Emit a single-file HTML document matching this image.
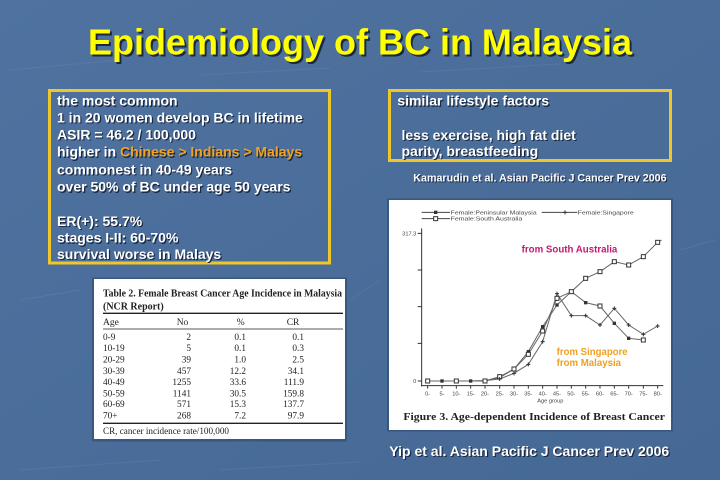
<!DOCTYPE html>
<html><head><meta charset="utf-8"><style>
html,body{margin:0;padding:0;background:#4a6d9a;}
svg{display:block}
.s{font-family:"Liberation Sans",Arial,sans-serif;font-weight:bold}
.sh{fill:#1b2940}
.w{fill:#ffffff}
.tb{font-family:"Liberation Serif","Times New Roman",serif;fill:#222}
</style></head><body>
<svg width="720" height="480" viewBox="0 0 720 480" xmlns="http://www.w3.org/2000/svg">
<defs>
<linearGradient id="bg" x1="0" y1="0" x2="1" y2="1">
<stop offset="0" stop-color="#4f72a0"/><stop offset="0.5" stop-color="#4a6d9a"/><stop offset="1" stop-color="#456894"/>
</linearGradient>
</defs>
<rect x="0" y="0" width="720" height="480" fill="url(#bg)"/>
<g opacity="0.06" stroke="#ffffff" stroke-width="1">
<line x1="10" y1="70" x2="120" y2="60"/><line x1="200" y1="75" x2="330" y2="68"/><line x1="420" y1="72" x2="560" y2="64"/>
<line x1="20" y1="300" x2="80" y2="290"/><line x1="350" y1="300" x2="380" y2="280"/><line x1="680" y1="250" x2="715" y2="240"/>
<line x1="20" y1="470" x2="160" y2="460"/><line x1="220" y1="470" x2="360" y2="462"/>
</g>

<!-- Title -->
<g class="s" font-size="36" text-anchor="middle">
<text x="362" y="56.5" class="sh">Epidemiology of BC in Malaysia</text>
<text x="360" y="54.5" fill="#ffff00">Epidemiology of BC in Malaysia</text>
</g>

<!-- Left box -->
<rect x="49.5" y="90.5" width="280" height="172.5" fill="none" stroke="#efc72a" stroke-width="3"/>
<g class="s" font-size="14">
<g transform="translate(1.2,1.2)" class="sh">
<text x="57" y="105.7">the most common</text>
<text x="57" y="122.3">1 in 20 women develop BC in lifetime</text>
<text x="57" y="139.3">ASIR = 46.2 / 100,000</text>
<text x="57" y="156.7">higher in Chinese &gt; Indians &gt; Malays</text>
<text x="57" y="174.3">commonest in 40-49 years</text>
<text x="57" y="191.7">over 50% of BC under age 50 years</text>
<text x="57" y="226">ER(+): 55.7%</text>
<text x="57" y="242.7">stages I-II: 60-70%</text>
<text x="57" y="259">survival worse in Malays</text>
</g>
<g class="w">
<text x="57" y="105.7">the most common</text>
<text x="57" y="122.3">1 in 20 women develop BC in lifetime</text>
<text x="57" y="139.3">ASIR = 46.2 / 100,000</text>
<text x="57" y="156.7">higher in <tspan fill="#f3a21f">Chinese &gt; Indians &gt; Malays</tspan></text>
<text x="57" y="174.3">commonest in 40-49 years</text>
<text x="57" y="191.7">over 50% of BC under age 50 years</text>
<text x="57" y="226">ER(+): 55.7%</text>
<text x="57" y="242.7">stages I-II: 60-70%</text>
<text x="57" y="259">survival worse in Malays</text>
</g>
</g>

<!-- Right box -->
<rect x="389.5" y="90.5" width="281" height="70" fill="none" stroke="#efc72a" stroke-width="3"/>
<g class="s" font-size="14">
<g transform="translate(1.2,1.2)" class="sh">
<text x="397.3" y="105.7">similar lifestyle factors</text>
<text x="401.5" y="140">less exercise, high fat diet</text>
<text x="401.5" y="156">parity, breastfeeding</text>
</g>
<g class="w">
<text x="397.3" y="105.7">similar lifestyle factors</text>
<text x="401.5" y="140">less exercise, high fat diet</text>
<text x="401.5" y="156">parity, breastfeeding</text>
</g>
</g>
<g class="s" font-size="10.7">
<text x="414.3" y="182.7" class="sh">Kamarudin et al. Asian Pacific J Cancer Prev 2006</text>
<text x="413.3" y="181.7" class="w">Kamarudin et al. Asian Pacific J Cancer Prev 2006</text>
</g>
<g class="s" font-size="14">
<text x="390.5" y="457.2" class="sh">Yip et al. Asian Pacific J Cancer Prev 2006</text>
<text x="389.3" y="456" class="w">Yip et al. Asian Pacific J Cancer Prev 2006</text>
</g>

<!-- Table image -->
<rect x="92" y="277.5" width="255" height="164" fill="#2f4a70" opacity="0.6"/>
<rect x="94" y="279" width="251" height="160" fill="#ffffff"/>
<g class="tb">
<text x="103" y="296.5" font-size="10" font-weight="bold" textLength="239" lengthAdjust="spacingAndGlyphs">Table 2. Female Breast Cancer Age Incidence in Malaysia</text>
<text x="103" y="309.5" font-size="10" font-weight="bold" textLength="60.7" lengthAdjust="spacingAndGlyphs">(NCR Report)</text>
<line x1="103" y1="313.3" x2="343" y2="313.3" stroke="#222" stroke-width="1.3"/>
<g font-size="9.5">
<text x="103" y="325">Age</text>
<text x="176.7" y="325">No</text>
<text x="236.7" y="325">%</text>
<text x="286.7" y="325">CR</text>
</g>
<line x1="103" y1="329" x2="343" y2="329" stroke="#222" stroke-width="0.8"/>
<g font-size="9.3">
<g>
<text x="103" y="340">0-9</text><text x="103" y="351">10-19</text><text x="103" y="362.3">20-29</text><text x="103" y="374">30-39</text>
<text x="103" y="385">40-49</text><text x="103" y="396.3">50-59</text><text x="103" y="407">60-69</text><text x="103" y="418.3">70+</text>
</g>
<g text-anchor="end">
<text x="191" y="340">2</text><text x="191" y="351">5</text><text x="191" y="362.3">39</text><text x="191" y="374">457</text>
<text x="191" y="385">1255</text><text x="191" y="396.3">1141</text><text x="191" y="407">571</text><text x="191" y="418.3">268</text>
<text x="246" y="340">0.1</text><text x="246" y="351">0.1</text><text x="246" y="362.3">1.0</text><text x="246" y="374">12.2</text>
<text x="246" y="385">33.6</text><text x="246" y="396.3">30.5</text><text x="246" y="407">15.3</text><text x="246" y="418.3">7.2</text>
<text x="304" y="340">0.1</text><text x="304" y="351">0.3</text><text x="304" y="362.3">2.5</text><text x="304" y="374">34.1</text>
<text x="304" y="385">111.9</text><text x="304" y="396.3">159.8</text><text x="304" y="407">137.7</text><text x="304" y="418.3">97.9</text>
</g>
</g>
<line x1="103" y1="423.3" x2="343" y2="423.3" stroke="#222" stroke-width="1.3"/>
<text x="103" y="434" font-size="9.3" textLength="126" lengthAdjust="spacingAndGlyphs">CR, cancer incidence rate/100,000</text>
</g>

<!-- Chart image -->
<rect x="387" y="198.5" width="286" height="233" fill="#2f4a70" opacity="0.6"/>
<rect x="389" y="200" width="282" height="230" fill="#ffffff"/>
<g transform="translate(385,195) scale(0.33333)">
<!-- legend -->
<g stroke="#444" stroke-width="3" fill="none">
<line x1="110" y1="52" x2="195" y2="52"/>
<line x1="110" y1="71" x2="195" y2="71"/>
<line x1="470" y1="52" x2="577" y2="52"/>
</g>
<rect x="147" y="47" width="10" height="10" fill="#333"/>
<rect x="146" y="65" width="12" height="12" fill="#fff" stroke="#333" stroke-width="3"/>
<path d="M540 46 V58 M534 52 H546" stroke="#333" stroke-width="3"/>
<g font-family="Liberation Sans, Arial, sans-serif" font-size="17" fill="#444">
<text x="197" y="58" textLength="258" lengthAdjust="spacingAndGlyphs">Female:Peninsular Malaysia</text>
<text x="197" y="77" textLength="215" lengthAdjust="spacingAndGlyphs">Female:South Australia</text>
<text x="578" y="58" textLength="168" lengthAdjust="spacingAndGlyphs">Female:Singapore</text>
</g>
<!-- axes -->
<g stroke="#333" stroke-width="3" fill="none">
<line x1="110" y1="100" x2="110" y2="574"/>
<line x1="108" y1="572" x2="835" y2="572"/>
<path d="M98 115 H110 M98 225 H110 M98 335 H110 M98 445 H110 M98 558 H110"/>
<path d="M128 572 v9 M171 572 v9 M214 572 v9 M257 572 v9 M300 572 v9 M344 572 v9 M387 572 v9 M430 572 v9 M473 572 v9 M516 572 v9 M559 572 v9 M602 572 v9 M645 572 v9 M688 572 v9 M731 572 v9 M775 572 v9 M818 572 v9"/>
</g>
<g font-family="Liberation Sans, Arial, sans-serif" font-size="17" fill="#444">
<text x="94" y="121" text-anchor="end">317.3</text>
<text x="94" y="564" text-anchor="end">0</text>
<g text-anchor="middle">
<text x="128" y="601">0-</text><text x="171" y="601">5-</text><text x="214" y="601">10-</text><text x="257" y="601">15-</text>
<text x="300" y="601">20-</text><text x="344" y="601">25-</text><text x="387" y="601">30-</text><text x="430" y="601">35-</text>
<text x="473" y="601">40-</text><text x="516" y="601">45-</text><text x="559" y="601">50-</text><text x="602" y="601">55-</text>
<text x="645" y="601">60-</text><text x="688" y="601">65-</text><text x="731" y="601">70-</text><text x="775" y="601">75-</text>
<text x="818" y="601">80-</text>
<text x="496" y="623">Age group</text>
</g>
</g>
<!-- series -->
<g fill="none" stroke="#666" stroke-width="3">
<polyline points="128,558 171,558 214,558 257,558 300,558 344,545 387,522 430,478 473,408 516,310 559,290 602,250 645,230 688,200 731,210 775,185 818,142 830,135"/>
<polyline points="128,558 171,558 214,558 257,558 300,557 344,548 387,522 430,470 473,395 516,330 559,290 602,323 645,333 688,385 731,430 775,435"/>
<polyline points="128,558 171,558 214,558 257,558 300,557 344,552 387,535 430,508 473,440 516,296 559,362 602,362 645,390 688,340 731,390 775,418 818,393"/>
</g>
<g fill="#333">
<rect x="123" y="553" width="10" height="10"/><rect x="166" y="553" width="10" height="10"/><rect x="209" y="553" width="10" height="10"/>
<rect x="252" y="553" width="10" height="10"/><rect x="295" y="552" width="10" height="10"/><rect x="339" y="543" width="10" height="10"/>
<rect x="382" y="517" width="10" height="10"/><rect x="425" y="465" width="10" height="10"/><rect x="468" y="390" width="10" height="10"/>
<rect x="511" y="325" width="10" height="10"/><rect x="554" y="285" width="10" height="10"/><rect x="597" y="318" width="10" height="10"/>
<rect x="640" y="328" width="10" height="10"/><rect x="683" y="380" width="10" height="10"/><rect x="726" y="425" width="10" height="10"/>
<rect x="770" y="430" width="10" height="10"/>
</g>
<g fill="#fff" stroke="#333" stroke-width="3">
<rect x="122" y="552" width="12" height="12"/><rect x="208" y="552" width="12" height="12"/><rect x="294" y="552" width="12" height="12"/>
<rect x="338" y="539" width="12" height="12"/><rect x="381" y="516" width="12" height="12"/><rect x="424" y="472" width="12" height="12"/>
<rect x="467" y="402" width="12" height="12"/><rect x="510" y="304" width="12" height="12"/><rect x="553" y="284" width="12" height="12"/>
<rect x="596" y="244" width="12" height="12"/><rect x="639" y="224" width="12" height="12"/><rect x="682" y="194" width="12" height="12"/>
<rect x="725" y="204" width="12" height="12"/><rect x="769" y="179" width="12" height="12"/><rect x="812" y="136" width="12" height="12"/>
<rect x="769" y="429" width="12" height="12"/><rect x="639" y="327" width="12" height="12"/>
</g>
<path d="M344 546v12M338 552h12 M387 529v12M381 535h12 M430 502v12M424 508h12 M473 434v12M467 440h12 M516 290v12M510 296h12 M559 356v12M553 362h12 M602 356v12M596 362h12 M645 384v12M639 390h12 M688 334v12M682 340h12 M731 384v12M725 390h12 M775 412v12M769 418h12 M818 387v12M812 393h12" stroke="#333" stroke-width="3"/>
<!-- annotations -->
<g font-family="Liberation Sans, Arial, sans-serif" font-weight="bold" font-size="29">
<text x="410" y="172" fill="#c4196f" textLength="287" lengthAdjust="spacingAndGlyphs">from South Australia</text>
<text x="515" y="480" fill="#f0a020" textLength="213" lengthAdjust="spacingAndGlyphs">from Singapore</text>
<text x="515" y="513" fill="#f0a020" textLength="193" lengthAdjust="spacingAndGlyphs">from Malaysia</text>
</g>
<text x="55" y="675" font-family="Liberation Serif, Times New Roman, serif" font-weight="bold" font-size="30" fill="#222" textLength="785" lengthAdjust="spacingAndGlyphs">Figure 3. Age-dependent Incidence of Breast Cancer</text>
</g>
</svg>
</body></html>
